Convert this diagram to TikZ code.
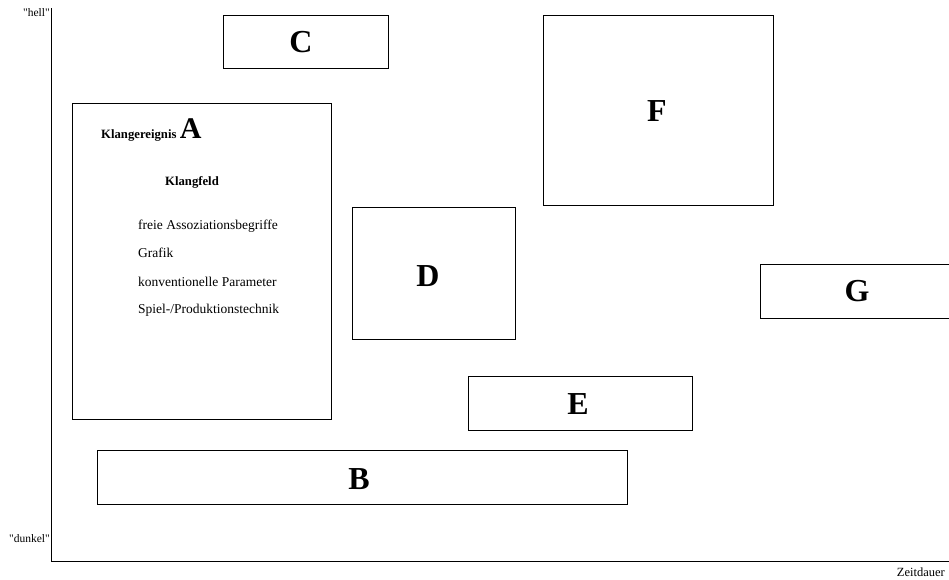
\documentclass[tikz,border=0pt]{standalone}
\usepackage{fontspec}
\setmainfont{Liberation Serif}
\usetikzlibrary{shapes,arrows}

\begin{document}
\begin{tikzpicture}[x=1pt,y=-1pt]
    % Define styles
    \tikzstyle{field} = [rectangle, draw, line width=0.8pt, inner sep=0pt]
    \tikzstyle{letter} = [font=\fontsize{32}{34}\selectfont\bfseries]
    \tikzstyle{label} = [font=\fontsize{13.5}{15}\selectfont]
    \tikzstyle{heading} = [font=\fontsize{12.7}{14}\selectfont\bfseries]
    \useasboundingbox (0,0) rectangle (949,579);

    % Axes
    \coordinate (top) at (51,8);
    \coordinate (origin) at (51,561);
    \coordinate (right) at (949,561);
    \draw [line width=0.8pt] (top) -- (origin) -- (right);
    \node [label, font=\fontsize{11.5}{13}\selectfont, anchor=east, inner sep=1pt] (hell) at (51,13) {\textquotedbl hell\textquotedbl};
    \node [label, font=\fontsize{11.5}{13}\selectfont, anchor=east, inner sep=1pt] (dunkel) at (51,539) {\textquotedbl dunkel\textquotedbl};
    \node [label, font=\fontsize{12.5}{13}\selectfont, anchor=base east, inner sep=0pt] (zeit) at (945,576) {Zeitdauer};

    % Fields
    \node [field, minimum width=259, minimum height=316] (fa) at (201.5,261) {};
    \node [field, minimum width=530, minimum height=54] (fb) at (362,477) {};
    \node [field, minimum width=165, minimum height=53] (fc) at (305.5,41.5) {};
    \node [field, minimum width=163, minimum height=132] (fd) at (433.5,273) {};
    \node [field, minimum width=224, minimum height=54] (fe) at (580,403) {};
    \node [field, minimum width=230, minimum height=190] (ff) at (658,110) {};
    \node [field, minimum width=189, minimum height=54, anchor=west] (fg) at (760,291) {};

    % Letters
    \node [letter] (lb) at (359,479) {B};
    \node [letter] (lc) at (301,42) {C};
    \node [letter] (ld) at (428,276) {D};
    \node [letter] (le) at (578,404) {E};
    \node [letter] (lf) at (657,111) {F};
    \node [letter] (lg) at (857,291) {G};

    % Field A contents
    \node [heading, anchor=base west, inner sep=0pt] (ereignis) at (101,138) {Klangereignis};
    \node [letter, font=\fontsize{30}{32}\selectfont\bfseries, anchor=base west, inner sep=0pt] (la) at (ereignis.base east) [xshift=3pt] {A};
    \node [heading, anchor=base] (klangfeld) at (192,185) {Klangfeld};
    \node [label, anchor=base west, inner sep=0pt] (assoz) at (138,229) {freie Assoziationsbegriffe};
    \node [label, anchor=base west, inner sep=0pt] (grafik) at (138,257) {Grafik};
    \node [label, anchor=base west, inner sep=0pt] (param) at (138,286) {konventionelle Parameter};
    \node [label, anchor=base west, inner sep=0pt] (technik) at (138,313) {Spiel-/Produktionstechnik};
\end{tikzpicture}
\end{document}
